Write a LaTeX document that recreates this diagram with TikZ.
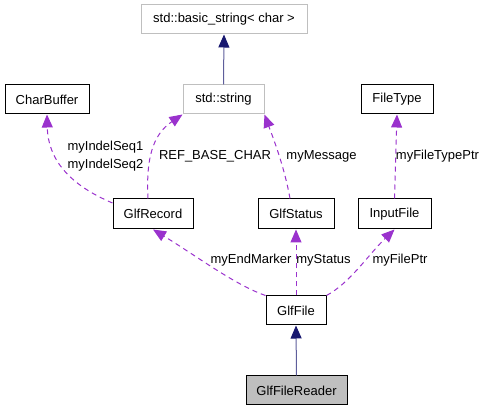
\documentclass[tikz,border=0pt]{standalone}
\usepackage{fontspec}
\setmainfont{Liberation Sans}
\usetikzlibrary{arrows.meta}
\definecolor{edgeblue}{HTML}{191970}
\definecolor{edgepurple}{HTML}{9A32CD}
\definecolor{stdgray}{HTML}{BFBFBF}
\definecolor{fillgray}{HTML}{BFBFBF}
\begin{document}
\begin{tikzpicture}[x=1pt,y=-1pt,
  every node/.style={font=\fontsize{13}{15}\selectfont},
  cls/.style={draw=black, line width=1pt, minimum height=29pt, inner sep=0pt, fill=white},
  stdcls/.style={cls, draw=stdgray},
  mainobj/.style={cls, fill=fillgray},
  inherit/.style={draw=edgeblue!70, line width=1pt, -{Triangle[length=13pt,width=11pt,fill=edgeblue,color=edgeblue]}},
  usage/.style={draw=edgepurple, line width=1pt, dash pattern=on 5pt off 4pt, -{Triangle[length=13pt,width=11pt,fill=edgepurple]}},
  lbl/.style={inner sep=0pt}]
\useasboundingbox (0,0) rectangle (485,411);
% nodes
\node[stdcls, minimum width=166pt] (bs) at (224,19.5) {std::basic\_string< char >};
\node[stdcls, minimum width=81pt] (str) at (223.5,99.5) {std::string};
\node[cls, minimum width=84pt] (cb) at (47,99.5) {CharBuffer};
\node[cls, minimum width=72pt] (ft) at (397,99.5) {FileType};
\node[cls, minimum width=80pt, minimum height=30pt] (rec) at (153,214) {GlfRecord};
\node[cls, minimum width=76pt, minimum height=30pt] (st) at (296,214) {GlfStatus};
\node[cls, minimum width=73pt, minimum height=30pt] (inf) at (394.5,214) {InputFile};
\node[cls, minimum width=60pt] (gf) at (296,310.5) {GlfFile};
\node[mainobj, minimum width=101pt] (gfr) at (296.5,390.5) {GlfFileReader};
% inheritance
\draw[inherit] (str.north) -- (bs.south);
\draw[inherit] (gfr.north) -- (gf.south);
% usage edges
\draw[usage] (rec.west |- 0,203) .. controls (70,185) and (48,160) .. (cb.south);
\draw[usage] (rec.north -| 148,0) .. controls (146,160) and (152,135) .. (str.south west);
\draw[usage] (st.north -| 290,0) .. controls (284,165) and (272,135) .. (str.south east);
\draw[usage] (inf.north) -- (ft.south);
\draw[usage] (gf.north west) .. controls (235,285) and (195,255) .. (rec.south);
\draw[usage] (gf.north) -- (st.south);
\draw[usage] (gf.north east) .. controls (350,283) and (368,255) .. (inf.south);
% labels
\node[lbl] (l1) at (105.5,147) {myIndelSeq1};
\node[lbl] (l2) at (105.5,165) {myIndelSeq2};
\node[lbl] (l3) at (215,156) {REF\_BASE\_CHAR};
\node[lbl] (l4) at (321.5,156) {myMessage};
\node[lbl] (l5) at (437.5,156) {myFileTypePtr};
\node[lbl] (l6) at (251,260) {myEndMarker};
\node[lbl] (l7) at (323.5,260) {myStatus};
\node[lbl] (l8) at (400,260) {myFilePtr};
\end{tikzpicture}
\end{document}
